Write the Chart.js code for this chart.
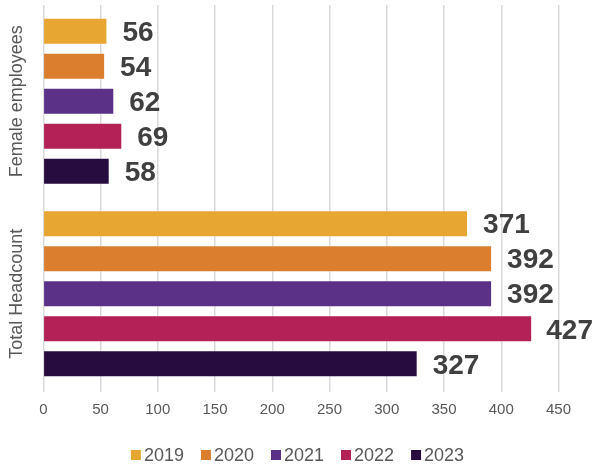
<!DOCTYPE html>
<html>
<head>
<meta charset="utf-8">
<script src="https://cdn.jsdelivr.net/npm/chart.js@4/dist/chart.umd.min.js"></script>
<style>
  html, body { margin: 0; padding: 0; background: #ffffff; }
  #wrap { width: 595px; height: 468px; }
</style>
</head>
<body>
<div id="wrap"><canvas id="c" width="595" height="468"></canvas></div>
<script>
const categories = ['Female employees', 'Total Headcount'];
const years = ['2019', '2020', '2021', '2022', '2023'];
const values2019 = [56, 371];
const values2020 = [54, 392];
const values2021 = [62, 392];
const values2022 = [69, 427];
const values2023 = [58, 327];
const xTickMin = 0;
const xTickMax = 450;
const xTickStep = 50;

const seriesValues = [values2019, values2020, values2021, values2022, values2023];
const colors = ['#E7A532', '#DB7F2E', '#5B3087', '#B32156', '#270C40'];
const FONT = '"Liberation Sans", Arial, sans-serif';

const datasets = years.map((y, i) => ({
  label: y,
  data: seriesValues[i],
  backgroundColor: colors[i],
  borderColor: 'rgba(255,255,255,0.35)',
  borderWidth: 1,
  barPercentage: 0.77,
  categoryPercentage: 0.91
}));

const valueLabels = {
  id: 'valueLabels',
  afterDatasetsDraw(chart) {
    const ctx = chart.ctx;
    ctx.save();
    ctx.font = 'bold 28px ' + FONT;
    ctx.fillStyle = '#404040';
    ctx.textAlign = 'left';
    ctx.textBaseline = 'middle';
    chart.data.datasets.forEach((ds, di) => {
      const meta = chart.getDatasetMeta(di);
      meta.data.forEach((el, i) => {
        const txt = String(ds.data[i]);
        const w = ctx.measureText(txt).width;
        let x = el.x + 15;
        if (x + w > chart.width - 2) x = chart.width - 2 - w;
        ctx.fillText(txt, x, el.y + 2);
      });
    });
    ctx.restore();
  }
};

const categoryLabels = {
  id: 'categoryLabels',
  afterDraw(chart) {
    const ctx = chart.ctx;
    const yScale = chart.scales.y;
    ctx.save();
    ctx.font = '18px ' + FONT;
    ctx.fillStyle = '#595959';
    ctx.textAlign = 'center';
    ctx.textBaseline = 'middle';
    categories.forEach((c, i) => {
      const y = yScale.getPixelForValue(i);
      ctx.save();
      ctx.translate(17, y);
      ctx.rotate(-Math.PI / 2);
      ctx.fillText(c, 0, 0);
      ctx.restore();
    });
    ctx.restore();
  }
};

const customLegend = {
  id: 'customLegend',
  afterDraw(chart) {
    const ctx = chart.ctx;
    ctx.save();
    ctx.font = '18px ' + FONT;
    const box = 10, gap = 3, spacing = 17;
    const widths = chart.data.datasets.map(ds => box + gap + ctx.measureText(ds.label).width);
    const total = widths.reduce((a, b) => a + b, 0) + spacing * (widths.length - 1);
    let x = chart.width / 2 - total / 2;
    const cy = 455;
    ctx.textBaseline = 'middle';
    ctx.textAlign = 'left';
    chart.data.datasets.forEach((ds, i) => {
      ctx.fillStyle = ds.backgroundColor;
      ctx.fillRect(x, cy - box / 2, box, box);
      ctx.fillStyle = '#595959';
      ctx.fillText(ds.label, x + box + gap, cy + 1);
      x += widths[i] + spacing;
    });
    ctx.restore();
  }
};

new Chart(document.getElementById('c'), {
  type: 'bar',
  data: { labels: categories, datasets: datasets },
  options: {
    indexAxis: 'y',
    responsive: false,
    devicePixelRatio: 1,
    animation: false,
    layout: { padding: { top: 5, right: 36.5, left: 0, bottom: 0 } },
    plugins: {
      legend: { display: false },
      tooltip: { enabled: false }
    },
    scales: {
      x: {
        min: xTickMin,
        max: xTickMax,
        ticks: {
          stepSize: xTickStep,
          color: '#595959',
          font: { family: FONT, size: 15 },
          padding: 9
        },
        grid: { color: '#d9d9d9', lineWidth: 1.5, tickLength: 2, drawTicks: true },
        border: { display: false },
        afterFit(scale) { scale.height = 78; }
      },
      y: {
        ticks: { display: false },
        grid: { display: false },
        border: { display: false },
        afterFit(scale) { scale.width = 43.3; }
      }
    }
  },
  plugins: [valueLabels, categoryLabels, customLegend]
});
</script>
</body>
</html>
